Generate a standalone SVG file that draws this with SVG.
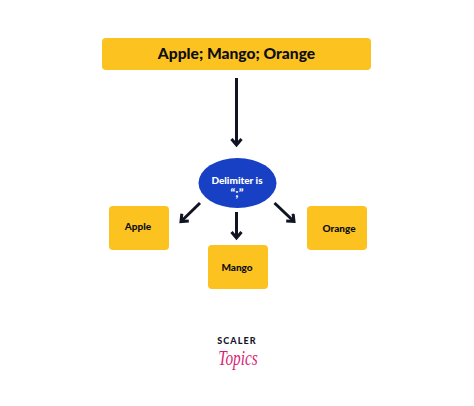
<svg xmlns="http://www.w3.org/2000/svg" width="474" height="406" viewBox="0 0 474 406">
<style>
.box{fill:#fcc220}
.t{font-family:"Lato","Noto Sans",sans-serif;font-weight:900;fill:#0d0d12;text-anchor:middle}
.c{stroke:#101322;stroke-width:3;fill:none;marker-end:url(#a)}
</style>
<defs><marker id="a" markerUnits="userSpaceOnUse" markerWidth="14" markerHeight="14" refX="9" refY="6" orient="auto"><path d="M3 1L9 6L3 11" fill="none" stroke="#101322" stroke-width="3"/></marker></defs>
<rect width="474" height="406" fill="#fff"/>
<g id="connectors">
<path class="c" d="M236.500 78V145"/>
<path class="c" d="M200 203L181 221.500"/>
<path class="c" d="M236.500 212V238"/>
<path class="c" d="M274.500 203L294 221.500"/>
</g>
<g id="source"><rect class="box" x="102" y="38" width="269" height="32" rx="4"/><text class="t" x="236.500" y="59" font-size="15.600">Apple; Mango; Orange</text></g>
<g id="delimiter"><ellipse cx="237.500" cy="183" rx="39" ry="25" fill="#1840c4"/><text class="t" style="fill:#fff" x="237" y="184" font-size="10">Delimiter is</text><text class="t" style="fill:#fff" x="237" y="197" font-size="12">“;”</text></g>
<g id="apple"><rect class="box" x="109" y="206" width="60" height="44" rx="4"/><text class="t" x="138" y="230" font-size="10">Apple</text></g>
<g id="mango"><rect class="box" x="208" y="245" width="60" height="44" rx="4"/><text class="t" x="237" y="271" font-size="10">Mango</text></g>
<g id="orange"><rect class="box" x="307" y="206" width="60" height="44" rx="4"/><text class="t" x="339" y="232" font-size="10">Orange</text></g>
<g id="logo"><text x="237" y="344" font-family="Lato,sans-serif" font-weight="900" font-size="9" letter-spacing="1.100" text-anchor="middle" fill="#15152a">SCALER</text><text transform="translate(238 365) scale(0.85 1.2)" font-family="Liberation Serif,serif" font-style="italic" font-size="18" text-anchor="middle" fill="#d81e72">Topics</text></g>
</svg>
